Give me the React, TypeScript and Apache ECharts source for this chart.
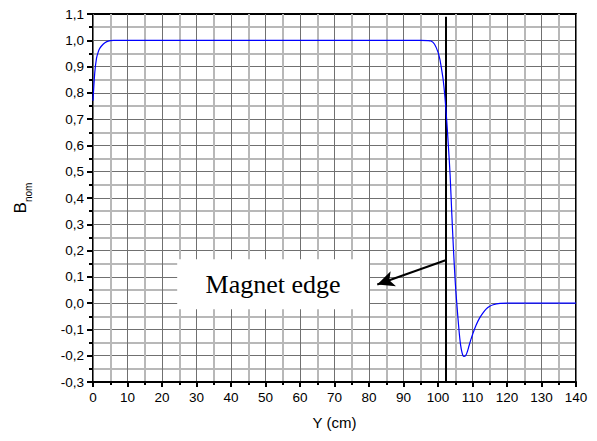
import React, { useEffect, useRef } from "react";
import * as echarts from "echarts";

// Position along Y (cm)
const yPositions: number[] = [
  0, 0.5, 1, 1.5, 2, 3, 4, 5, 6, 10, 20, 30, 40, 50, 60, 70, 80, 90, 95, 97, 98, 99,
  100, 100.5, 101, 101.5, 102, 102.5, 103, 103.5, 104, 104.5, 105, 105.5, 106, 106.5,
  107, 107.5, 108, 108.5, 109, 109.5, 110, 111, 112, 113, 114, 115, 116, 118, 120, 130, 140,
];
// Normalised field B_nom
const bNorm: number[] = [
  0.77, 0.875, 0.93, 0.955, 0.97, 0.986, 0.995, 0.999, 1.0, 1.0, 1.0, 1.0, 1.0, 1.0, 1.0, 1.0, 1.0, 1.0, 1.0, 0.999, 0.997, 0.985,
  0.955, 0.93, 0.893, 0.85, 0.785, 0.7, 0.6, 0.49, 0.34, 0.2, 0.08, -0.01, -0.09, -0.155,
  -0.19, -0.203, -0.2, -0.185, -0.162, -0.14, -0.12, -0.085, -0.058, -0.038, -0.022, -0.012, -0.006, -0.001, 0, 0, 0,
];

const magnetEdge = 102.2;
const annotationText = "Magnet edge";
const arrowFrom: [number, number] = [102.2, 0.163];
const arrowTo: [number, number] = [82.4, 0.071];
const boxCorners: [[number, number], [number, number]] = [[24.4, 0.167], [80.0, -0.023]];

const xMin = 0, xMax = 140, xStep = 10;
const yMin = -0.3, yMax = 1.1, yStep = 0.1;

export default function App() {
  const ref = useRef<HTMLDivElement>(null);
  useEffect(() => {
    if (!ref.current) return;
    const chart = echarts.init(ref.current, null, { renderer: "svg" });
    const font = "'Liberation Sans', Arial, sans-serif";
    const majorLine = { show: true, lineStyle: { color: "#707070", width: 1 } };
    const minorLine = { show: true, lineStyle: { color: "#b8b8b8", width: 2 } };
    chart.setOption({
      animation: false,
      grid: { left: 93, right: 21, top: 14, bottom: 59 },
      xAxis: [
        {
          type: "value",
          min: xMin,
          max: xMax,
          interval: xStep,
          name: "Y (cm)",
          nameLocation: "middle",
          nameGap: 33,
          nameTextStyle: { fontFamily: font, fontSize: 15, color: "#000" },
          axisLine: { show: true, onZero: false, lineStyle: { color: "#000", width: 2 } },
          axisTick: { show: true, inside: false, length: 5, lineStyle: { color: "#000", width: 2 } },
          minorTick: { show: true, splitNumber: 2, length: 3, lineStyle: { color: "#000", width: 2 } },
          axisLabel: { fontFamily: font, fontSize: 13.5, color: "#000", margin: 8 },
          splitLine: majorLine,
          minorSplitLine: minorLine,
          z: 1,
        },
        {
          type: "value",
          position: "top",
          min: xMin,
          max: xMax,
          axisLine: { show: true, onZero: false, lineStyle: { color: "#000", width: 2 } },
          axisTick: { show: false },
          axisLabel: { show: false },
          splitLine: { show: false },
        },
      ],
      yAxis: [
        {
          type: "value",
          min: yMin,
          max: yMax,
          interval: yStep,
          name: "{b|B}{s|nom}",
          nameLocation: "middle",
          nameRotate: 90,
          nameGap: 60,
          nameTextStyle: {
            fontFamily: font,
            color: "#000",
            rich: {
              b: { fontFamily: font, fontSize: 17, color: "#000" },
              s: { fontFamily: font, fontSize: 10, color: "#000", padding: [16, 0, 0, 0] },
            },
          },
          axisLine: { show: true, onZero: false, lineStyle: { color: "#000", width: 2 } },
          axisTick: { show: true, inside: false, length: 6, lineStyle: { color: "#000", width: 2 } },
          minorTick: { show: true, splitNumber: 2, length: 4, lineStyle: { color: "#000", width: 2 } },
          axisLabel: {
            fontFamily: font,
            fontSize: 13.5,
            color: "#000",
            margin: 9,
            formatter: (v: number) => v.toFixed(1).replace(".", ","),
          },
          splitLine: majorLine,
          minorSplitLine: minorLine,
        },
        {
          type: "value",
          position: "right",
          min: yMin,
          max: yMax,
          axisLine: { show: true, onZero: false, lineStyle: { color: "#000", width: 2 } },
          axisTick: { show: false },
          axisLabel: { show: false },
          splitLine: { show: false },
        },
      ],
      series: [
        {
          type: "line",
          data: yPositions.map((x, i) => [x, bNorm[i]]),
          showSymbol: false,
          symbol: "none",
          smooth: 0.3,
          lineStyle: { color: "#0000ff", width: 1.2 },
          z: 5,
          markArea: {
            silent: true,
            itemStyle: { color: "#ffffff", opacity: 1 },
            label: {
              show: true,
              position: "inside",
              fontFamily: "'Liberation Serif', 'Times New Roman', serif",
              fontSize: 26,
              color: "#000",
            },
            data: [[
              { name: annotationText, coord: boxCorners[0] },
              { coord: boxCorners[1] },
            ]],
          },
          markLine: {
            silent: true,
            animation: false,
            label: { show: false },
            data: [
              [
                { coord: [magnetEdge, yMin], symbol: "none" },
                { coord: [magnetEdge, 1.09], symbol: "none" },
              ],
              [
                { coord: arrowFrom, symbol: "none" },
                { coord: arrowTo, symbol: "arrow", symbolSize: [12, 17] },
              ],
            ],
            lineStyle: { color: "#000", width: 2, type: "solid" },
            emphasis: { disabled: true },
          },
        },
      ],
    });
    return () => chart.dispose();
  }, []);
  return <div ref={ref} style={{ width: 597, height: 441, position: "absolute", left: 0, top: 0 }} />;
}
